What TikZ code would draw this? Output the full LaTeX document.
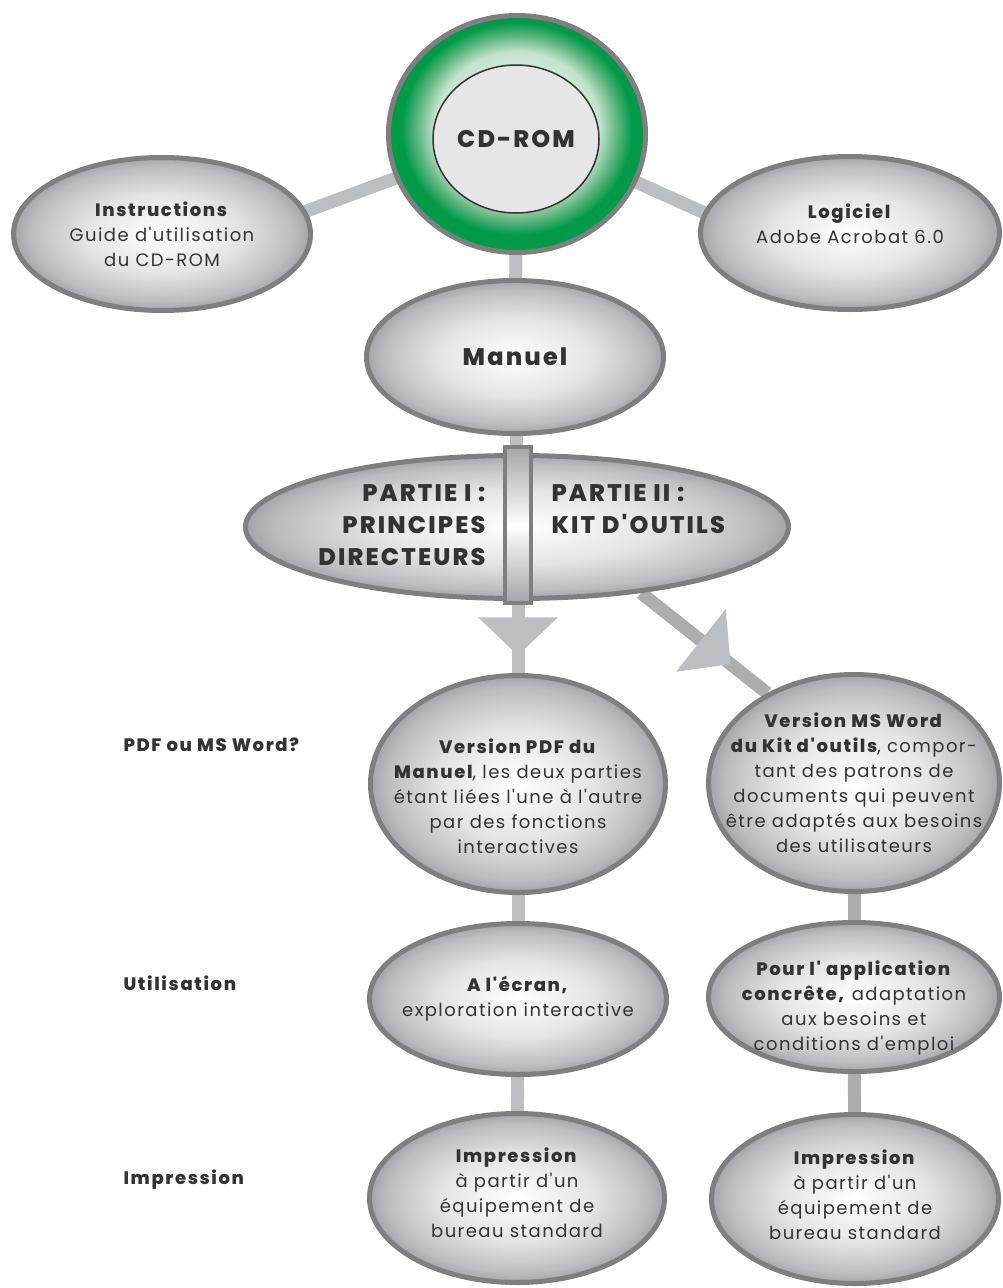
\documentclass[tikz,border=0pt]{standalone}
\usepackage{fontspec}
\newfontfamily\diag{Poppins}[LetterSpace=8,BoldFont={Poppins ExtraBold},BoldFeatures={LetterSpace=9}]
\usetikzlibrary{shapes.geometric,positioning,backgrounds,decorations.markings}
\definecolor{rim}{HTML}{7F7F7F}
\definecolor{ink}{HTML}{333333}
\definecolor{lnk}{HTML}{BCBFC1}
\definecolor{lnkdark}{HTML}{ADADAD}
\definecolor{gA}{HTML}{E3E4E6}
\definecolor{gB}{HTML}{BCBDC0}
\definecolor{gC}{HTML}{A4A5A9}
\definecolor{cdA}{HTML}{C4E3CD}
\definecolor{cdB}{HTML}{5DB57E}
\definecolor{cdC}{HTML}{009A49}
\definecolor{cdface}{HTML}{E6E6E6}
\pgfdeclareradialshading{glossy}{\pgfpoint{0bp}{0bp}}{color(0bp)=(white); color(13bp)=(gA); color(22bp)=(gB); color(25bp)=(gC); color(50bp)=(gC)}
\pgfdeclareradialshading{cdring}{\pgfpoint{0bp}{2bp}}{color(0bp)=(white); color(16bp)=(cdA); color(19.5bp)=(cdB); color(22.5bp)=(cdC); color(50bp)=(cdC)}
\begin{document}
\begin{tikzpicture}[x=1pt,y=-1pt,
  bubble/.style 2 args={ellipse,draw=rim,line width=5pt,shade,shading=glossy,minimum width=#1,minimum height=#2,inner sep=0pt},
  txt/.style={align=center,text=ink,font=\diag\fontsize{18}{25}\selectfont},
  big/.style={text=ink,font=\diag\fontsize{24}{32}\selectfont\bfseries},
  side/.style={anchor=west,text=ink,font=\diag\fontsize{18}{25}\selectfont\bfseries},
  link/.style={draw=lnk,line width=13pt},
  linkdark/.style={link,draw=lnkdark},
  tip/.style={postaction={decorate},decoration={markings,mark=at position #1 with {\fill[lnk] (0pt,0pt) -- (-38pt,40pt) -- (-38pt,-40pt) -- cycle;}}}]
  \useasboundingbox (0,0) rectangle (1002,1288);
  % top
  \node[bubble={257pt}{237pt},shading=cdring] (cdrom) at (517,134) {};
  \node[ellipse,draw=ink,line width=1.5pt,fill=cdface,minimum width=166pt,minimum height=148pt,inner sep=0pt,label={[big]center:CD-ROM}] (cdface) at (516,139) {};
  \node[bubble={297pt}{153pt},label={[txt]center:{\textbf{Instructions}\\Guide d'utilisation\\du CD-ROM}}] (instr) at (162,234) {};
  \node[bubble={299pt}{153pt},label={[txt,yshift=9pt]center:{\textbf{Logiciel}\\Adobe Acrobat 6.0}}] (logic) at (850,233) {};
  \node[bubble={297pt}{153pt},label={[big]center:Manuel}] (manuel) at (515,357) {};
  % the two parts
  \node[bubble={543pt}{143pt}] (partie) at (517,527) {};
  \node[draw=rim,line width=4pt,minimum width=26pt,minimum height=156pt,inner sep=0pt,top color=gC,bottom color=gC,middle color=white] (bar) at (518,525) {};
  \node[big,align=right,left=14pt of bar] (partA) {PARTIE I :\\PRINCIPES\\DIRECTEURS};
  \node[big,align=left,right=15pt of bar,yshift=16pt] (partB) {PARTIE II :\\KIT D'OUTILS};
  % versions
  \node[bubble={295pt}{217pt},label={[txt,yshift=-12pt]center:{\textbf{Version PDF du}\\\textbf{Manuel}, les deux parties\\étant liées l'une à l'autre\\par des fonctions\\interactives}}] (pdf) at (518,784) {};
  \node[bubble={291pt}{217pt},label={[txt]center:{\textbf{Version MS Word}\\\textbf{du Kit d'outils}, compor-\\tant des patrons de\\documents qui peuvent\\être adaptés aux besoins\\des utilisateurs}}] (word) at (854,783) {};
  \node[bubble={297pt}{151pt},label={[txt]center:{\textbf{A l'écran,}\\exploration interactive}}] (ecran) at (518,999) {};
  \node[bubble={291pt}{149pt},label={[txt,yshift=-11pt]center:{\textbf{Pour l' application}\\\textbf{concrête,} adaptation\\aux besoins et\\conditions d'emploi}}] (pour) at (854,997) {};
  \node[bubble={295pt}{169pt},label={[txt,yshift=5pt]center:{\textbf{Impression}\\à partir d'un\\équipement de\\bureau standard}}] (printA) at (517,1198) {};
  \node[bubble={287pt}{169pt},label={[txt,yshift=4pt]center:{\textbf{Impression}\\à partir d'un\\équipement de\\bureau standard}}] (printB) at (855,1199) {};
  \node[side] (qformat) at (120,745) {PDF ou MS Word?};
  \node[side] (quse) at (120,983) {Utilisation};
  \node[side] (qprint) at (120,1180) {Impression};
  \begin{scope}[on background layer]
    \draw[link,shorten <=-10pt,shorten >=-10pt] (cdrom.200) -- (instr.9);
    \draw[link,shorten <=-10pt,shorten >=-10pt] (cdrom.-22) -- (logic.172);
    \draw[link] (cdrom) -- (manuel);
    \draw[link] (manuel) -- (bar);
    \draw[link,tip=0.74] (bar) -- (pdf);
    \draw[link] (pdf) -- (ecran);
    \draw[link] (ecran) -- (printA);
    \draw[linkdark,tip=0.71] (partie.-28) -- (word.134);
    \draw[linkdark] (word) -- (pour);
    \draw[linkdark] (pour) -- (printB);
  \end{scope}
\end{tikzpicture}
\end{document}
